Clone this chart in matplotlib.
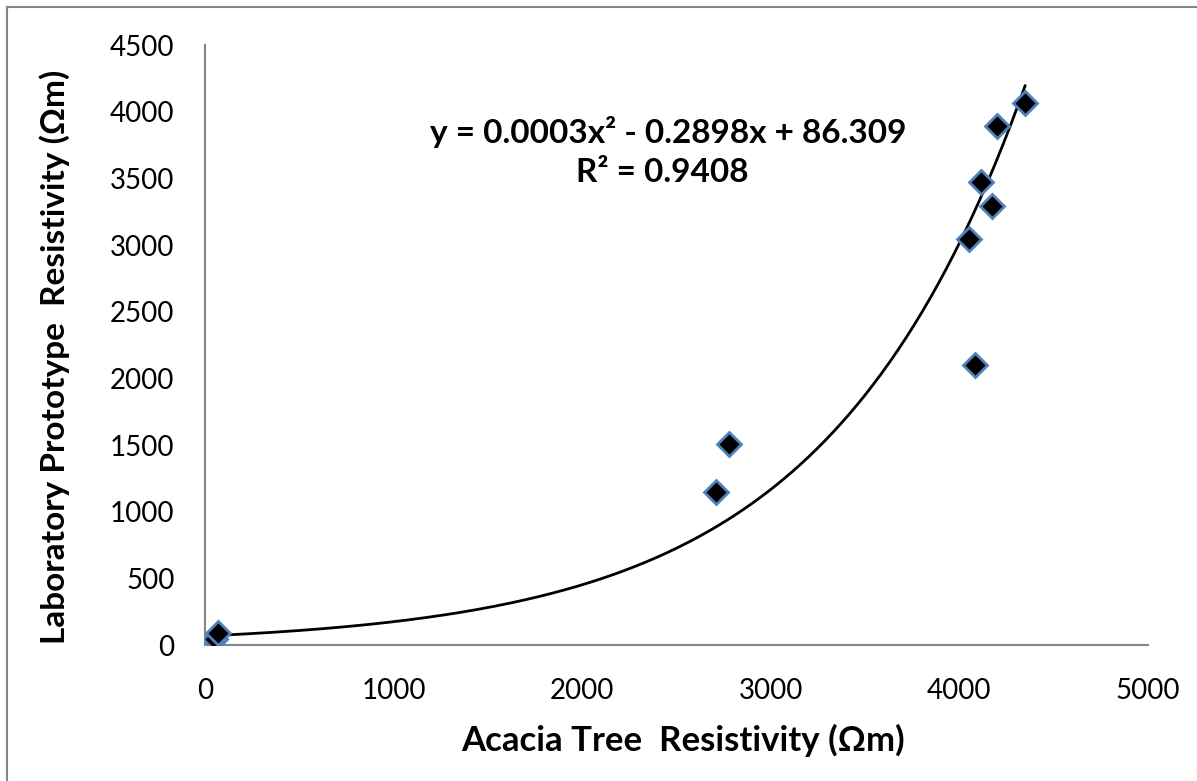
import numpy as np
import matplotlib
matplotlib.use('Agg')
import matplotlib.pyplot as plt
from matplotlib.lines import Line2D

# data
acacia = [53, 69, 2710, 2778, 4051, 4083, 4115, 4173, 4199, 4348]
prototype = [45, 90, 1148, 1508, 3045, 2100, 3472, 3292, 3892, 4065]

x_ticks = [0, 1000, 2000, 3000, 4000, 5000]
y_ticks = [0, 500, 1000, 1500, 2000, 2500, 3000, 3500, 4000, 4500]

eq_text = "y = 0.0003x² - 0.2898x + 86.309"
r2_text = "R² = 0.9408"

plt.rcParams['font.family'] = ['Lato', 'DejaVu Sans']

W, H = 1197, 781
fig = plt.figure(figsize=(W / 100, H / 100), dpi=100)
ax = fig.add_axes([205 / W, (H - 645) / H, (1148 - 205) / W, 600 / H])

# trendline (exponential fit, as drawn in the original)
xs = np.array(acacia, dtype=float)
ys = np.array(prototype, dtype=float)
b, ln_a = np.polyfit(xs, np.log(ys), 1)
xx = np.linspace(xs.min(), xs.max(), 300)
ax.plot(xx, np.exp(ln_a) * np.exp(b * xx), color='black', lw=2, zorder=2)

ax.plot(acacia, prototype, ls='none', marker='D', ms=12, mfc='black',
        mec='#4F81BD', mew=2, zorder=3)

ax.set_xlim(0, 5000)
ax.set_ylim(0, 4500)
ax.set_xticks(x_ticks)
ax.set_yticks(y_ticks)
ax.tick_params(length=0, labelsize=20, colors='black')
ax.tick_params(axis='y', pad=22)
ax.tick_params(axis='x', pad=24)
for s in ['top', 'right']:
    ax.spines[s].set_visible(False)
for s in ['left', 'bottom']:
    ax.spines[s].set_color('#868686')
    ax.spines[s].set_linewidth(1.5)

fig.text(683 / W, 1 - 740 / H, "Acacia Tree  Resistivity (Ωm)", ha='center',
         va='center', fontsize=25, fontweight='bold')
fig.text(55 / W, 1 - 357 / H, "Laboratory Prototype  Resistivity (Ωm)",
         ha='center', va='center', rotation=90, fontsize=24, fontweight='bold')

fig.text(668 / W, 1 - 132 / H, eq_text, ha='center', va='center',
         fontsize=24, fontweight='bold')
fig.text(662 / W, 1 - 172 / H, r2_text, ha='center', va='center',
         fontsize=24, fontweight='bold')

# chart area border (only left and top edges visible)
fig.add_artist(Line2D([7 / W, 7 / W], [0, 1 - 7 / H], color='#868686', lw=1.5))
fig.add_artist(Line2D([7 / W, 1], [1 - 7 / H, 1 - 7 / H], color='#868686', lw=1.5))

fig.savefig('out.png', dpi=100)
